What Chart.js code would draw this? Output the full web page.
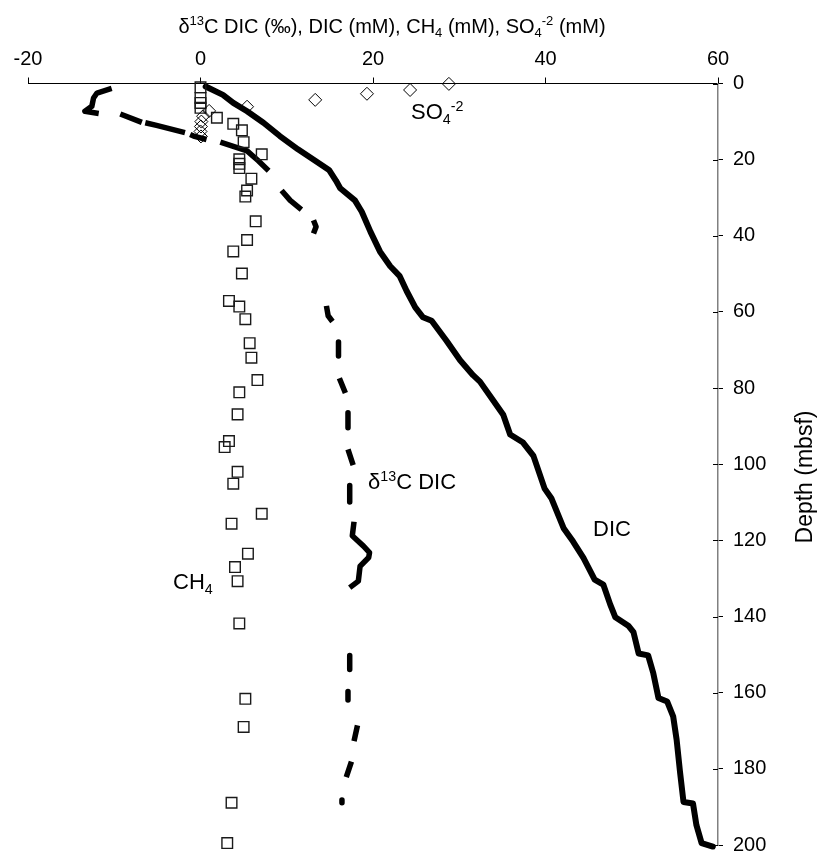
<!DOCTYPE html>
<html>
<head>
<meta charset="utf-8">
<script src="https://cdn.jsdelivr.net/npm/chart.js@4/dist/chart.umd.min.js"></script>
<style>
  html, body { margin: 0; padding: 0; background: #fff; }
  #wrap { width: 820px; height: 867px; }
</style>
</head>
<body>
<div id="wrap"><canvas id="c" width="820" height="867"></canvas></div>
<script>
// ---------- DATA ----------
const xTickValues = [-20, 0, 20, 40, 60];
const depthTickValues = [0, 20, 40, 60, 80, 100, 120, 140, 160, 180, 200];

// DIC (mM) profile
const dicDepth = [0.8, 3.0, 5.1, 7.3, 10.3, 13.8, 17.3, 20.3, 22.7, 25.5, 27.5, 30.7, 33.7, 38.9, 44.1, 48.0, 50.6, 54.5, 58.8, 61.4, 62.3, 67.5, 72.7, 76.6, 78.3, 83.1, 87.0, 92.2, 94.3, 97.8, 106.4, 109.0, 116.8, 120.3, 124.6, 130.3, 131.6, 136.8, 140.2, 142.4, 144.1, 149.7, 150.2, 154.9, 161.4, 162.3, 166.2, 172.3, 180.9, 188.7, 189.1, 194.8, 199.5, 200.4];
const dicValue = [0.6, 2.6, 3.8, 5.4, 7.3, 9.2, 11.3, 13.3, 14.9, 15.7, 16.2, 17.9, 18.7, 19.7, 20.8, 22.0, 23.1, 23.9, 24.9, 25.8, 26.8, 28.5, 30.1, 31.6, 32.4, 33.9, 35.1, 35.9, 37.4, 38.6, 39.9, 40.7, 42.1, 43.2, 44.4, 45.7, 46.7, 47.5, 48.1, 49.6, 50.2, 50.8, 51.9, 52.5, 53.1, 54.1, 54.8, 55.2, 55.6, 56.0, 57.1, 57.5, 58.1, 59.4];

// d13C-DIC (permil) profile, null = gap in the record
const d13cDepth = [1.3, 2.5, 3.8, 6.0, 7.3, 7.9, null,
  8.0, 10.2, null,
  10.3, 11.0, 12.9, null,
  13.4, 13.8, 14.7, null,
  15.4, 17.7, 20.3, 22.9, null,
  28.1, 30.7, 33.1, null,
  35.9, 37.6, 39.4, null,
  58.4, 61.0, 62.5, null,
  67.9, 71.6, null,
  77.4, 81.3, null,
  86.5, 90.4, null,
  96.1, 100.2, null,
  105.6, 109.9, null,
  115.1, 118.8, 121.5, 123.2, 124.5, 126.8, 130.7, 132.4, null,
  150.2, 153.9, null,
  159.7, 161.9, null,
  168.6, 172.7, null,
  178.1, 182.2, null,
  188.2, 188.9];
const d13cValue = [-10.3, -12.0, -12.4, -12.6, -13.4, -11.8, null,
  -9.3, -6.8, null,
  -6.4, -5.1, -1.8, null,
  -1.2, -0.8, 0.7, null,
  2.3, 5.4, 6.7, 7.9, null,
  9.4, 10.4, 11.7, null,
  13.1, 13.4, 13.1, null,
  14.6, 14.8, 15.3, null,
  16.0, 16.0, null,
  16.1, 16.8, null,
  17.1, 17.1, null,
  17.1, 17.7, null,
  17.3, 17.3, null,
  17.8, 17.6, 18.9, 19.6, 19.5, 18.5, 18.3, 17.3, null,
  17.3, 17.3, null,
  17.1, 17.1, null,
  18.2, 17.8, null,
  17.5, 16.9, null,
  16.4, 16.4];

// CH4 (mM)
const ch4Depth = [1.0, 3.8, 5.1, 6.4, 9.0, 10.6, 12.3, 15.4, 18.6, 19.9, 21.1, 22.2, 25.0, 28.1, 29.7, 36.2, 41.1, 44.1, 49.9, 57.1, 58.6, 61.9, 68.2, 72.0, 77.9, 81.1, 86.9, 93.9, 95.5, 102.0, 105.1, 113.0, 115.6, 123.5, 127.0, 130.7, 141.8, 161.6, 169.0, 188.9, 199.5];
const ch4Value = [0.0, 0.0, 0.0, 0.0, 1.9, 3.8, 4.8, 5.0, 7.1, 4.5, 4.5, 4.5, 5.9, 5.4, 5.2, 6.4, 5.4, 3.8, 4.8, 3.3, 4.5, 5.2, 5.7, 5.9, 6.6, 4.5, 4.3, 3.3, 2.8, 4.3, 3.8, 7.1, 3.6, 5.5, 4.0, 4.3, 4.5, 5.2, 5.0, 3.6, 3.1];

// SO4-2 (mM)
const so4Depth = [0.1, 1.7, 2.7, 4.3, 6.1, 7.2, 8.6, 10.0, 11.3, 12.6, 13.9];
const so4Value = [28.8, 24.3, 19.3, 13.3, 5.4, 1.0, 0.3, 0.1, 0.05, 0.0, 0.05];

// ---------- helpers ----------
const FONT = '"Liberation Sans", Arial, Helvetica, sans-serif';
function pts(vals, depths) {
  return depths.map((d, i) => ({ x: vals[i], y: d }));
}

function richWidth(ctx, parts, size) {
  let w = 0;
  for (const p of parts) {
    const s = p.s === 'n' ? size : size * 0.65;
    ctx.font = s + 'px ' + FONT;
    w += ctx.measureText(p.t).width;
  }
  return w;
}
function drawRich(ctx, parts, x, y, size, align) {
  ctx.save();
  ctx.textBaseline = 'alphabetic';
  ctx.textAlign = 'left';
  ctx.fillStyle = '#000';
  let cx = x;
  const total = richWidth(ctx, parts, size);
  if (align === 'center') cx = x - total / 2;
  for (const p of parts) {
    const s = p.s === 'n' ? size : size * 0.65;
    ctx.font = s + 'px ' + FONT;
    let dy = 0;
    if (p.s === 'sup') dy = -size * 0.38;
    if (p.s === 'sub') dy = size * 0.22;
    ctx.fillText(p.t, cx, y + dy);
    cx += ctx.measureText(p.t).width;
  }
  ctx.restore();
}

const titleParts = [
  { t: 'δ', s: 'n' }, { t: '13', s: 'sup' }, { t: 'C DIC (‰), DIC (mM), CH', s: 'n' },
  { t: '4', s: 'sub' }, { t: ' (mM), SO', s: 'n' }, { t: '4', s: 'sub' },
  { t: '-2', s: 'sup' }, { t: ' (mM)', s: 'n' }
];
const labelSO4 = [{ t: 'SO', s: 'n' }, { t: '4', s: 'sub' }, { t: '-2', s: 'sup' }];
const labelD13C = [{ t: 'δ', s: 'n' }, { t: '13', s: 'sup' }, { t: 'C DIC', s: 'n' }];
const labelDIC = [{ t: 'DIC', s: 'n' }];
const labelCH4 = [{ t: 'CH', s: 'n' }, { t: '4', s: 'sub' }];

const decorPlugin = {
  id: 'decor',
  afterDraw(chart) {
    const ctx = chart.ctx;
    const xs = chart.scales.x, ys = chart.scales.y;
    // inner half of the right-axis tick marks
    ctx.save();
    ctx.strokeStyle = '#000';
    ctx.lineWidth = 1;
    const ax = xs.right;
    for (const v of depthTickValues) {
      const py = Math.round(ys.getPixelForValue(v)) + 0.5;
      ctx.beginPath();
      ctx.moveTo(ax - 5, py);
      ctx.lineTo(ax, py);
      ctx.stroke();
    }
    ctx.restore();

    // axis title (top)
    drawRich(ctx, titleParts, 392, 33, 20, 'center');

    // depth title on the right, reading upward
    ctx.save();
    ctx.translate(806, 477);
    ctx.rotate(-Math.PI / 2);
    ctx.font = '23px ' + FONT;
    ctx.fillStyle = '#000';
    ctx.textAlign = 'center';
    ctx.textBaseline = 'middle';
    ctx.fillText('Depth (mbsf)', 0, 0);
    ctx.restore();

    // curve labels
    drawRich(ctx, labelSO4, 411, 119, 22, 'left');
    drawRich(ctx, labelD13C, 368, 489, 22, 'left');
    drawRich(ctx, labelDIC, 593, 536, 22, 'left');
    drawRich(ctx, labelCH4, 173, 589, 22, 'left');
  }
};

Chart.defaults.font.family = FONT;
Chart.defaults.color = '#000';

new Chart(document.getElementById('c'), {
  type: 'scatter',
  data: {
    datasets: [
      {
        label: 'SO4',
        data: pts(so4Value, so4Depth),
        pointStyle: 'rectRot',
        pointRadius: 6.5,
        borderColor: '#000',
        backgroundColor: 'rgba(0,0,0,0)',
        borderWidth: 1,
        showLine: false,
        clip: false
      },
      {
        label: 'CH4',
        data: pts(ch4Value, ch4Depth),
        pointStyle: 'rect',
        pointRadius: 7.5,
        borderColor: '#1a1a1a',
        backgroundColor: 'rgba(0,0,0,0)',
        borderWidth: 1.4,
        showLine: false,
        clip: false
      },
      {
        label: 'DIC',
        data: pts(dicValue, dicDepth),
        showLine: true,
        pointRadius: 0,
        borderColor: '#000',
        borderWidth: 6,
        borderJoinStyle: 'round',
        borderCapStyle: 'round',
        tension: 0,
        clip: false
      },
      {
        label: 'd13C DIC',
        data: pts(d13cValue, d13cDepth),
        showLine: true,
        spanGaps: false,
        pointRadius: 0,
        borderColor: '#000',
        borderWidth: 5.5,
        borderJoinStyle: 'round',
        borderCapStyle: 'butt',
        tension: 0,
        clip: false
      }
    ]
  },
  options: {
    responsive: false,
    animation: false,
    events: [],
    layout: { padding: { left: 28, right: 0, top: 0, bottom: 13.5 } },
    plugins: {
      legend: { display: false },
      tooltip: { enabled: false },
      title: { display: false }
    },
    scales: {
      x: {
        type: 'linear',
        position: 'top',
        min: -20,
        max: 60,
        afterFit(scale) { scale.height = 83.5; },
        afterBuildTicks(scale) { scale.ticks = xTickValues.map(v => ({ value: v })); },
        ticks: {
          autoSkip: false,
          maxRotation: 0,
          padding: 6,
          font: { size: 20 },
          color: '#000'
        },
        grid: {
          drawOnChartArea: false,
          drawTicks: true,
          tickLength: 6,
          color: '#000',
          tickColor: '#000',
          lineWidth: 1
        },
        border: { display: true, color: '#000', width: 1 }
      },
      y: {
        type: 'linear',
        position: 'right',
        reverse: true,
        min: 0,
        max: 200,
        afterFit(scale) { scale.width = 102; },
        afterBuildTicks(scale) { scale.ticks = depthTickValues.map(v => ({ value: v })); },
        ticks: {
          autoSkip: false,
          padding: 10,
          font: { size: 20 },
          color: '#000'
        },
        grid: {
          drawOnChartArea: false,
          drawTicks: true,
          tickLength: 5,
          color: '#000',
          tickColor: '#000',
          lineWidth: 1
        },
        border: { display: true, color: '#808080', width: 1.5 }
      }
    }
  },
  plugins: [decorPlugin]
});
</script>
</body>
</html>
